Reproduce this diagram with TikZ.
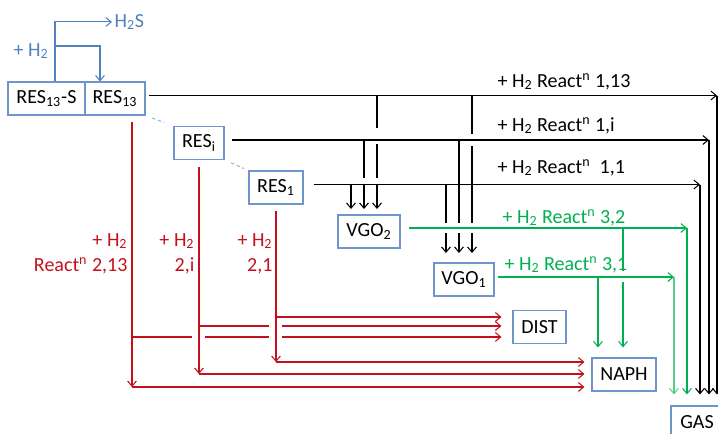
\documentclass[tikz,border=0pt]{standalone}
\usepackage{fontspec}
\setmainfont{Carlito}
\usetikzlibrary{arrows.meta}
\definecolor{rxred}{RGB}{196,16,28}
\definecolor{rxgreen}{RGB}{0,176,80}
\definecolor{feedblue}{RGB}{79,129,189}
\definecolor{boxblue}{RGB}{110,150,205}

\begin{document}
\begin{tikzpicture}[x=0.2mm,y=-0.2mm,line width=0.6pt,
  font=\fontsize{11.4}{13.7}\selectfont,
  unit/.style={draw=boxblue,line width=0.6pt,inner sep=0pt,minimum height=6.6mm},
  barb/.style={-{Straight Barb[length=3pt,width=5pt]}},
  lbl/.style={inner sep=0pt,anchor=base west},
  rlbl/.style={inner sep=0pt,anchor=base east,text=rxred}]
\useasboundingbox (0,0) rectangle (718,433);
% units
\node[unit,minimum width=15.4mm] (res13s) at (46.5,98.5) {RES\textsubscript{13}-S};
\node[unit,minimum width=12mm] (res13) at (115,98.5) {RES\textsubscript{13}};
\node[unit,minimum width=10mm] (resi) at (199,143) {RES\textsubscript{i}};
\node[unit,minimum width=10.8mm] (res1) at (276,187.5) {RES\textsubscript{1}};
\node[unit,minimum width=12.4mm] (vgo2) at (369,231.5) {VGO\textsubscript{2}};
\node[unit,minimum width=12mm] (vgo1) at (464,279.5) {VGO\textsubscript{1}};
\node[unit,minimum width=10.6mm] (dist) at (539.5,327) {DIST};
\node[unit,minimum width=12.8mm] (naph) at (624,374.5) {NAPH};
\node[unit,minimum width=10.4mm] (gas) at (697,422.5) {GAS};
% hydrogen feed, desulphurisation
\node[lbl,text=feedblue] (h2in) at (13,56) {+ H\textsubscript{2}};
\node[lbl,text=feedblue] (h2s) at (114,27) {H\textsubscript{2}S};
\draw[feedblue,barb] ([xshift=1.7mm]res13s.north) coordinate (fd) |- ([xshift=-0.4mm]h2s.west);
\draw[feedblue,barb] (fd |- 0,46) -| ([xshift=-3mm]res13.north);
\draw[boxblue!70,dash pattern=on 2pt off 1.5pt,shorten <=1.4mm,shorten >=2mm] (res13.south east) -- (resi.north west);
\draw[boxblue!70,dash pattern=on 2pt off 1.5pt,shorten <=1.4mm,shorten >=1mm] (resi.south east) -- (res1.north west);
% reaction 1 : residue to gas
\node[lbl] (rx113) at (497,87) {+ H\textsubscript{2} React\textsuperscript{n} 1,13};
\node[lbl] (rx1i) at (497,131) {+ H\textsubscript{2} React\textsuperscript{n} 1,i};
\node[lbl] (rx11) at (497,173) {+ H\textsubscript{2} React\textsuperscript{n}~~1,1};
\foreach \src/\gap/\xx in {res13/3/717,resi/7/709,res1/10/700}{
  \draw[barb] ([shift={(\gap,-3)}]\src.east) coordinate (t) -- (t -| \xx,0) coordinate (c);
  \draw[barb,shorten >=2.2mm] (c) -- (c |- gas.north);
}
% residue to VGO
\draw (377,96) -- (377,128);
\draw (377,144) -- (377,178);
\draw (364,140) -- (364,178);
\foreach \xx in {351,364,377}
  \draw[barb] (\xx,184.5) -- (\xx,209);
\draw (472,96) -- (472,134);
\draw (472,146) -- (472,223);
\draw (459,140) -- (459,223);
\draw (446,184.5) -- (446,223);
\foreach \xx in {446,459,472}
  \draw[barb] (\xx,233) -- (\xx,253);
% reaction 3 : VGO cracking
\node[lbl,text=rxgreen] (rx32) at (502,223) {+ H\textsubscript{2} React\textsuperscript{n} 3,2};
\node[lbl,text=rxgreen] (rx31) at (504,270) {+ H\textsubscript{2} React\textsuperscript{n} 3,1};
\draw[rxgreen,barb] ([shift={(8,-3.5)}]vgo2.east) coordinate (v2) -- (v2 -| 687,0) coordinate (c2);
\draw[rxgreen,barb,shorten >=2.2mm] (c2) -- (c2 |- gas.north);
\draw[rxgreen,barb] ([shift={(3,-2.5)}]vgo1.east) coordinate (v1) -- (v1 -| 674,0) coordinate (c1);
\draw[rxgreen!65,barb,shorten >=2.2mm] (c1) -- (c1 |- gas.north);
\draw[rxgreen] (v2 -| 623,0) -- (623,271);
\draw[rxgreen,barb,shorten >=2mm] (623,282) -- (623,0 |- naph.north);
\draw[rxgreen,barb,shorten >=2mm] (v1 -| 598,0) -- (598,0 |- naph.north);
% reaction 2 : residue to distillate and naphtha
\node[rlbl] (h2a) at (128,246) {+ H\textsubscript{2}};
\node[rlbl] (rxa) at (128,271) {React\textsuperscript{n} 2,13};
\node[rlbl] (h2b) at (195,246) {+ H\textsubscript{2}};
\node[rlbl] (rxb) at (195,271) {2,i};
\node[rlbl] (h2c) at (273,246) {+ H\textsubscript{2}};
\node[rlbl] (rxc) at (273,271) {2,1};
\draw[rxred,barb] ([shift={(17,6)}]res13.south) -- (132,387) coordinate (k13);
\draw[rxred,barb] ([yshift=-1.4mm]resi.south) -- (199,374) coordinate (ki);
\draw[rxred,barb] ([yshift=-1.2mm]res1.south) -- (276,362) coordinate (k1);
\foreach \k in {k13,ki,k1}
  \draw[rxred,barb,shorten >=1.4mm] (\k) -- (naph.west |- \k);
\draw[rxred,barb,shorten >=2.2mm] (276,317) -- (dist.west |- 0,317);
\draw[rxred] (199,326) -- (269,326);
\draw[rxred,barb,shorten >=2.2mm] (282,326) -- (dist.west |- 0,326);
\draw[rxred] (132,337) -- (192,337);
\draw[rxred] (205,337) -- (269,337);
\draw[rxred,barb,shorten >=2.2mm] (282,337) -- (dist.west |- 0,337);
\end{tikzpicture}
\end{document}
